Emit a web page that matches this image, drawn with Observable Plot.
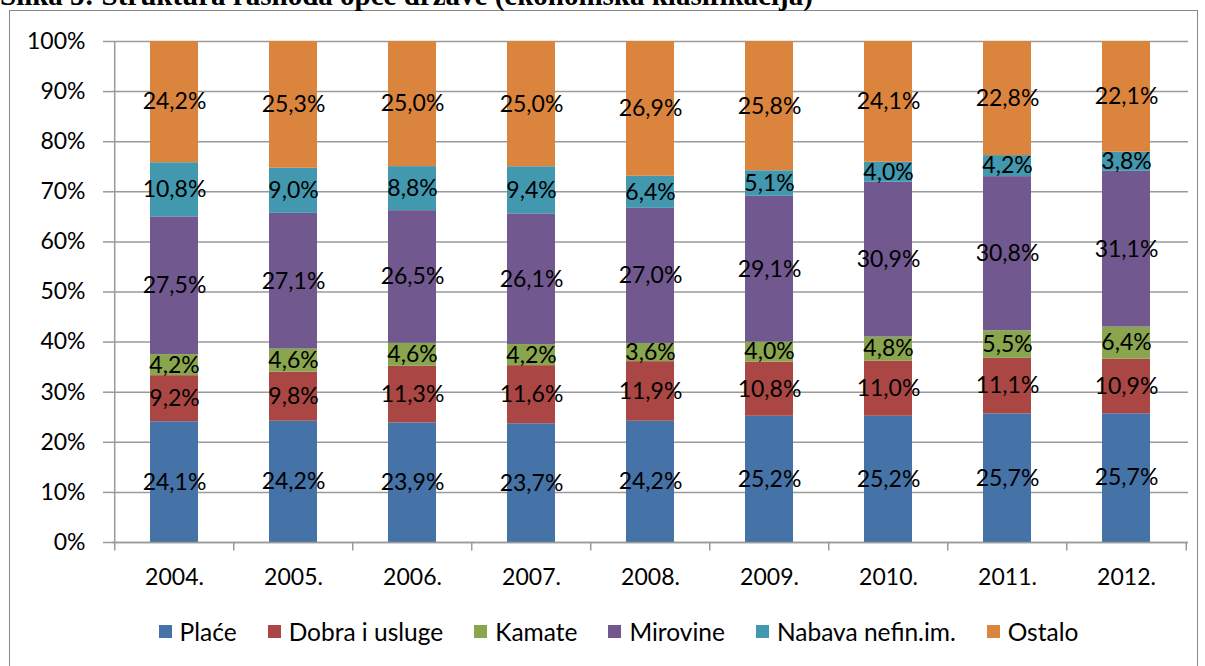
<!DOCTYPE html>
<html>
<head>
<meta charset="utf-8">
<script src="https://cdn.jsdelivr.net/npm/d3@7"></script>
<script src="https://cdn.jsdelivr.net/npm/@observablehq/plot@0.6"></script>
<style>
  html, body { margin: 0; padding: 0; background: #fff; }
  #wrap { position: relative; width: 1205px; height: 666px; overflow: hidden; font-family: Lato, "Open Sans", sans-serif; }
  #title { position: absolute; left: 0px; top: -21px; font-family: "Liberation Serif", "Times New Roman", serif; font-weight: bold; font-size: 29px; line-height: 1.107; white-space: nowrap; color: #000; }
  #frame { position: absolute; left: 9px; top: 10px; width: 1189px; height: 700px; border: 1.5px solid #888; box-sizing: border-box; background: #fff; }
  #chart { position: absolute; left: 0; top: 0; }
  #legend { position: absolute; left: 9px; width: 1189px; top: 617px; display: flex; justify-content: center; gap: 31px; font-size: 24.5px; color: #000; padding-left: 30px; box-sizing: border-box; }
  .item { display: flex; align-items: center; gap: 8px; }
  .sw { width: 13px; height: 13px; display: inline-block; }
</style>
</head>
<body>
<div id="wrap">
  <div id="frame"></div>
  <div id="title">Slika 5: Struktura rashoda opće države (ekonomska klasifikacija)</div>
  <div id="chart"></div>
  <div id="legend"></div>
</div>
<script>
const years = ["2004.", "2005.", "2006.", "2007.", "2008.", "2009.", "2010.", "2011.", "2012."];
const series = ["Plaće", "Dobra i usluge", "Kamate", "Mirovine", "Nabava nefin.im.", "Ostalo"];
const colors = ["#4572A7", "#AA4643", "#89A54E", "#71588F", "#4198AF", "#DB843D"];
const place    = [24.1, 24.2, 23.9, 23.7, 24.2, 25.2, 25.2, 25.7, 25.7];
const dobra    = [9.2, 9.8, 11.3, 11.6, 11.9, 10.8, 11.0, 11.1, 10.9];
const kamate   = [4.2, 4.6, 4.6, 4.2, 3.6, 4.0, 4.8, 5.5, 6.4];
const mirovine = [27.5, 27.1, 26.5, 26.1, 27.0, 29.1, 30.9, 30.8, 31.1];
const nabava   = [10.8, 9.0, 8.8, 9.4, 6.4, 5.1, 4.0, 4.2, 3.8];
const ostalo   = [24.2, 25.3, 25.0, 25.0, 26.9, 25.8, 24.1, 22.8, 22.1];
const yTicks = [0, 0.1, 0.2, 0.3, 0.4, 0.5, 0.6, 0.7, 0.8, 0.9, 1.0];

const values = [place, dobra, kamate, mirovine, nabava, ostalo];
const data = [];
series.forEach((s, i) => years.forEach((y, j) => data.push({year: y, series: s, value: values[i][j]})));

const W = 1205, H = 600, ML = 112, MR = 17, MT = 41, MB = 58;
const step = (W - ML - MR) / years.length;
const fmt = v => d3.format(".1f")(v).replace(".", ",") + "%";

const chart = Plot.plot({
  width: W, height: H,
  marginLeft: ML, marginRight: MR, marginTop: MT, marginBottom: MB,
  style: {fontFamily: "Lato, 'Open Sans', sans-serif", fontSize: "23px", color: "#000", background: "transparent"},
  x: {domain: years, paddingInner: 0.6, paddingOuter: 0.3, label: null},
  y: {domain: [0, 1], label: null},
  color: {domain: series, range: colors},
  marks: [
    Plot.gridY(yTicks, {stroke: "#9a9a9a", strokeOpacity: 1, strokeWidth: 1.5}),
    Plot.barY(data, Plot.stackY({x: "year", y: "value", fill: "series", offset: "normalize"})),
    Plot.text(data, Plot.stackY({x: "year", y: "value", z: "series", offset: "normalize", text: d => fmt(d.value), fill: "#000", fontSize: 23})),
    Plot.axisY({ticks: yTicks, tickFormat: d3.format(".0%"), tickSize: 9, tickPadding: 18, stroke: "#9a9a9a", strokeWidth: 1.5, fontSize: 23}),
    Plot.axisX({tickSize: 0, tickPadding: 26, fontSize: 23}),
    Plot.ruleX([years[0]], {x: d => d, y1: 0, y2: 1, dx: -step / 2, stroke: "#9a9a9a", strokeWidth: 1.5}),
    Plot.ruleY([0], {stroke: "#9a9a9a", strokeWidth: 1.5}),
    Plot.ruleX(years, {x: d => d, y1: 0, y2: -0.017, dx: -step / 2, stroke: "#9a9a9a", strokeWidth: 1.5}),
    Plot.ruleX([years[years.length - 1]], {x: d => d, y1: 0, y2: -0.017, dx: step / 2, stroke: "#9a9a9a", strokeWidth: 1.5})
  ]
});
document.getElementById("chart").appendChild(chart);

const legend = document.getElementById("legend");
series.forEach((s, i) => {
  const it = document.createElement("div");
  it.className = "item";
  const sw = document.createElement("span");
  sw.className = "sw";
  sw.style.background = colors[i];
  const t = document.createElement("span");
  t.textContent = s;
  it.appendChild(sw); it.appendChild(t);
  legend.appendChild(it);
});
</script>
</body>
</html>
